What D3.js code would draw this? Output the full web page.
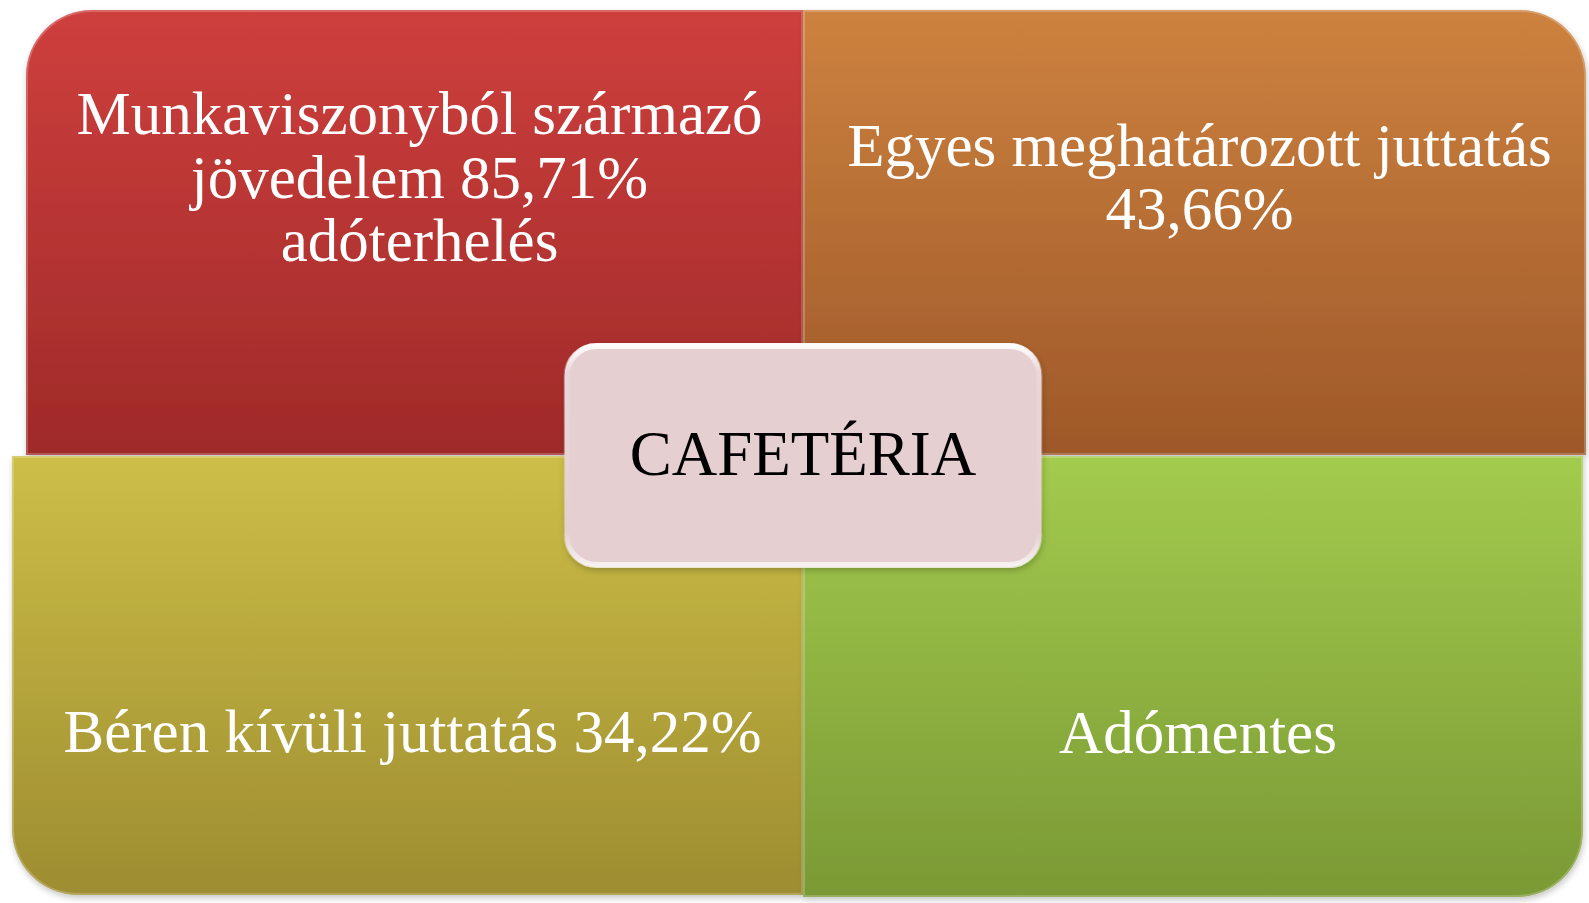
<!DOCTYPE html>
<html>
<head>
<meta charset="utf-8">
<script src="https://cdn.jsdelivr.net/npm/d3@7"></script>
<style>
	html, body { margin: 0; padding: 0; background: #fff; }
	svg { display: block; }
</style>
</head>
<body>
<div id="chart"></div>
<script>

// quadrant data
var quadrants = [
	{ col: "left",  row: "top",    lines: ["Munkaviszonyból származó", "jövedelem 85,71%", "adóterhelés"] },
	{ col: "right", row: "top",    lines: ["Egyes meghatározott juttatás", "43,66%"] },
	{ col: "left",  row: "bottom", lines: ["Béren kívüli juttatás 34,22%"] },
	{ col: "right", row: "bottom", lines: ["Adómentes"] }
];
var centerLabel  = "CAFETÉRIA";
var topColors    = ["#ce3f3d", "#cd823f", "#ccbe48", "#a3cb4d"];
var bottomColors = ["#9f2a29", "#9e5829", "#9e8d30", "#7a9935"];

var W = 1589, H = 903;

var svg = d3.select("#chart")
	.append("svg")
	.attr("width", W)
	.attr("height", H);

var defs = svg.append("defs");

var R = 66;
var mid = { x: 803, y: 455.5 };
var box = { w: 477, h: 223 };

// each quadrant has one rounded outer corner, slightly offset like the original
function quadBox( q ) {
	var b;
	if (q.col == "left" && q.row == "top")     b = { x0: 26,    x1: mid.x, y0: 10,  y1: 455 };
	if (q.col == "right" && q.row == "top")    b = { x0: mid.x, x1: 1586,  y0: 10,  y1: 455 };
	if (q.col == "left" && q.row == "bottom")  b = { x0: 12,    x1: mid.x, y0: 456, y1: 895 };
	if (q.col == "right" && q.row == "bottom") b = { x0: mid.x, x1: 1583,  y0: 456, y1: 897 };
	return b;
}

function quadPath( q ) {
	var b = quadBox(q);
	var p = d3.path();
	if (q.col == "left" && q.row == "top") {
		p.moveTo(b.x0, b.y0 + R);
		p.arcTo(b.x0, b.y0, b.x0 + R, b.y0, R);
		p.lineTo(b.x1, b.y0); p.lineTo(b.x1, b.y1); p.lineTo(b.x0, b.y1);
	} else if (q.col == "right" && q.row == "top") {
		p.moveTo(b.x0, b.y0);
		p.lineTo(b.x1 - R, b.y0);
		p.arcTo(b.x1, b.y0, b.x1, b.y0 + R, R);
		p.lineTo(b.x1, b.y1); p.lineTo(b.x0, b.y1);
	} else if (q.col == "left") {
		p.moveTo(b.x0, b.y0);
		p.lineTo(b.x1, b.y0); p.lineTo(b.x1, b.y1);
		p.lineTo(b.x0 + R, b.y1);
		p.arcTo(b.x0, b.y1, b.x0, b.y1 - R, R);
	} else {
		p.moveTo(b.x0, b.y0);
		p.lineTo(b.x1, b.y0);
		p.lineTo(b.x1, b.y1 - R);
		p.arcTo(b.x1, b.y1, b.x1 - R, b.y1, R);
		p.lineTo(b.x0, b.y1);
	}
	p.closePath();
	return p.toString();
}

var shadow = defs.append("filter").attr("id", "shadow")
	.attr("x", "-10%").attr("y", "-10%").attr("width", "120%").attr("height", "120%");
shadow.append("feDropShadow")
	.attr("dx", 1).attr("dy", 3).attr("stdDeviation", 3)
	.attr("flood-color", "#000").attr("flood-opacity", 0.22);

quadrants.forEach(function( q, i ) {
	var g = defs.append("linearGradient")
		.attr("id", "grad" + i)
		.attr("x1", 0).attr("y1", 0).attr("x2", 0).attr("y2", 1);
	g.append("stop").attr("offset", "0%").attr("stop-color", topColors[i]);
	g.append("stop").attr("offset", "100%").attr("stop-color", bottomColors[i]);

	defs.append("clipPath").attr("id", "clip" + i)
		.append("path").attr("d", quadPath(q));
});

var quads = svg.append("g").attr("class", "quads");

quadrants.forEach(function( q, i ) {
	var g = quads.append("g").attr("filter", "url(#shadow)");

	g.append("path")
		.attr("d", quadPath(q))
		.style("fill", "url(#grad" + i + ")");

	// thin light bevel rim
	g.append("path")
		.attr("d", quadPath(q))
		.attr("clip-path", "url(#clip" + i + ")")
		.style("fill", "none")
		.style("stroke", "#fff")
		.style("stroke-opacity", 0.22)
		.style("stroke-width", 4);
});

// labels, centred between the outer edge and the centre box
var fontSize = 61, lineH = 63.5;

quadrants.forEach(function( q ) {
	var b = quadBox(q);
	var cx = (b.x0 + b.x1) / 2 + 5;
	var cy = q.row == "top"
		? (b.y0 + (mid.y - box.h / 2)) / 2
		: (b.y1 + (mid.y + box.h / 2)) / 2;
	var n = q.lines.length;
	var firstBase = cy - (n - 1) * lineH / 2 + fontSize * 0.34;

	var t = svg.append("text")
		.attr("text-anchor", "middle")
		.style("font-family", "'Liberation Serif', 'DejaVu Serif', serif")
		.style("font-size", fontSize + "px")
		.style("fill", "#fff");

	t.selectAll("tspan")
		.data(q.lines)
		.enter()
		.append("tspan")
		.attr("x", cx)
		.attr("y", function(d, j) { return firstBase + j * lineH; })
		.text(function(d) { return d; });
});

// centre box
var cg = defs.append("linearGradient").attr("id", "gloss")
	.attr("x1", 0).attr("y1", 0).attr("x2", 0).attr("y2", 1);
cg.append("stop").attr("offset", "0%").attr("stop-color", "#fff").attr("stop-opacity", 0.95);
cg.append("stop").attr("offset", "12%").attr("stop-color", "#fff").attr("stop-opacity", 0.15);
cg.append("stop").attr("offset", "85%").attr("stop-color", "#fff").attr("stop-opacity", 0.0);
cg.append("stop").attr("offset", "100%").attr("stop-color", "#fff").attr("stop-opacity", 0.7);

var center = svg.append("g").attr("filter", "url(#shadow)");

center.append("rect")
	.attr("x", mid.x - box.w / 2)
	.attr("y", mid.y - box.h / 2)
	.attr("width", box.w)
	.attr("height", box.h)
	.attr("rx", 32)
	.style("fill", "#e6cfd1");

center.append("rect")
	.attr("x", mid.x - box.w / 2 + 2)
	.attr("y", mid.y - box.h / 2 + 2)
	.attr("width", box.w - 4)
	.attr("height", box.h - 4)
	.attr("rx", 30)
	.style("fill", "none")
	.style("stroke", "url(#gloss)")
	.style("stroke-width", 6);

svg.append("text")
	.attr("x", mid.x)
	.attr("y", 475)
	.attr("text-anchor", "middle")
	.style("font-family", "'Liberation Serif', 'DejaVu Serif', serif")
	.style("font-size", "63px")
	.style("fill", "#000")
	.text(centerLabel);

</script>
</body>
</html>
